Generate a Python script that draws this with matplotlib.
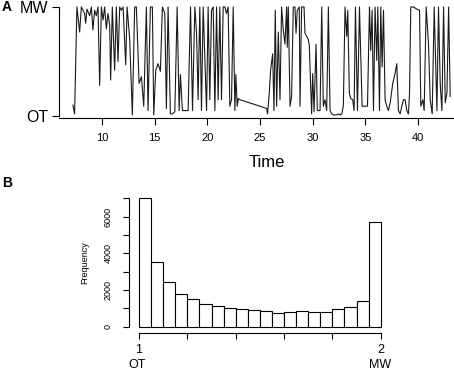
import numpy as np
import matplotlib
import matplotlib.pyplot as plt

matplotlib.use("Agg")
plt.rcParams["font.family"] = ["Liberation Sans", "DejaVu Sans"]

# panel A: state trace over time (1 = OT, 2 = MW)
time = [7.24, 7.40, 7.62, 7.88, 8.04, 8.35, 8.45, 8.57, 8.83, 8.99, 9.14, 9.30, 9.46,
        9.62, 9.78, 9.94, 10.10, 10.25, 10.41, 10.57, 10.73, 10.82, 10.98, 11.20, 11.36,
        11.52, 11.68, 11.84, 12.00, 12.25, 12.38, 12.63, 12.88, 13.10, 13.26, 13.52,
        13.74, 13.96, 14.21, 14.37, 14.59, 14.78, 14.91, 15.10, 15.32, 15.54, 15.73,
        15.96, 16.11, 16.27, 16.49, 16.68, 16.91, 17.13, 17.32, 17.44, 17.63, 17.86,
        18.17, 18.40, 18.59, 18.81, 18.97, 19.12, 19.28, 19.44, 19.60, 19.76, 19.92,
        20.07, 20.23, 20.39, 20.55, 20.71, 20.87, 21.02, 21.18, 21.34, 21.50, 21.66,
        21.82, 21.97, 22.13, 22.29, 22.45, 22.61, 22.70, 22.83, 22.93, 23.08, 25.62,
        25.71, 25.87, 26.00, 26.19, 26.32, 26.44, 26.57, 26.73, 26.89, 27.04, 27.20,
        27.36, 27.52, 27.58, 27.68, 27.84, 27.99, 28.15, 28.31, 28.41, 28.53, 28.72,
        28.79, 28.94, 29.17, 29.26, 29.42, 29.58, 29.67, 29.89, 29.99, 30.12, 30.31,
        30.43, 30.69, 30.85, 31.00, 31.16, 31.32, 31.48, 31.64, 31.80, 31.95, 32.27,
        32.43, 32.59, 32.75, 32.90, 33.06, 33.22, 33.32, 33.47, 33.60, 33.79, 33.92,
        34.05, 34.24, 34.43, 34.55, 34.68, 34.96, 35.19, 35.38, 35.50, 35.63, 35.76,
        35.91, 36.07, 36.17, 36.33, 36.45, 36.58, 36.71, 36.86, 37.02, 37.18, 37.34,
        37.59, 37.81, 37.97, 38.13, 38.29, 38.45, 38.61, 38.76, 38.92, 39.08, 39.18,
        39.30, 39.56, 39.87, 40.13, 40.25, 40.44, 40.57, 40.76, 40.98, 41.14, 41.33,
        41.52, 41.78, 41.93, 42.09, 42.25, 42.41, 42.57, 42.73, 42.89, 43.04]
state = [1.10, 1.02, 2.00, 1.77, 2.00, 1.94, 1.85, 1.98, 1.92, 2.00, 1.79, 1.97, 1.92,
         2.00, 1.28, 2.00, 1.88, 2.00, 1.80, 1.94, 1.83, 1.33, 2.00, 1.42, 2.00,
         1.50, 2.00, 1.97, 2.00, 1.47, 2.00, 1.70, 1.01, 2.00, 2.00, 1.30,
         1.36, 1.09, 2.00, 1.05, 2.00, 2.00, 1.01, 1.42, 1.48, 1.41, 2.00,
         1.94, 1.07, 2.00, 1.02, 1.02, 1.04, 2.00, 1.05, 1.38, 1.05, 1.05,
         1.05, 2.00, 1.05, 2.00, 1.76, 1.15, 2.00, 1.05, 2.00, 1.54, 1.05,
         2.00, 1.15, 1.97, 2.00, 1.05, 2.00, 1.15, 2.00, 1.15, 2.00, 2.00,
         1.94, 2.00, 1.09, 1.15, 2.00, 1.05, 1.38, 1.09, 1.16, 1.15, 1.07,
         1.02, 1.21, 1.42, 1.57, 1.05, 1.97, 1.09, 1.77, 1.15, 2.00, 1.79,
         1.66, 2.00, 1.63, 2.00, 1.09, 1.18, 2.00, 2.00, 1.76, 1.97, 2.00,
         1.09, 2.00, 2.00, 1.76, 1.73, 1.70, 1.65, 1.02, 1.39, 1.04, 1.66,
         1.05, 1.05, 2.00, 1.09, 1.15, 1.05, 2.00, 1.05, 1.02, 1.01, 1.01,
         1.02, 1.01, 1.02, 1.09, 2.00, 1.73, 1.97, 1.21, 1.16, 1.15, 1.05,
         2.00, 1.05, 2.00, 1.57, 1.09, 1.09, 1.09, 2.00, 1.60, 1.97, 1.05,
         2.00, 1.51, 2.00, 1.05, 2.00, 1.45, 1.97, 1.15, 1.09, 1.05, 1.12,
         1.30, 1.39, 1.48, 1.05, 1.02, 1.09, 1.15, 1.15, 1.05, 1.02, 1.21,
         2.00, 2.00, 1.98, 1.97, 1.09, 1.15, 1.05, 2.00, 1.66, 1.15, 1.02,
         2.00, 1.05, 2.00, 1.30, 1.05, 2.00, 1.12, 1.21, 2.00, 1.18]

# panel B: histogram of the state values, 20 bins from 1 to 2
bin_edges = np.linspace(1, 2, 21)
counts = [7040, 3530, 2430, 1810, 1500, 1260, 1120, 1040, 950, 915,
          860, 770, 820, 830, 790, 820, 970, 1060, 1410, 5730]

W, H = 454, 372
fig = plt.figure(figsize=(W / 100, H / 100), dpi=100)

# ---- panel A ----
ax1 = fig.add_axes([59 / W, 1 - 118 / H, 1 - 59 / W, 113 / H])
ax1.plot(time, state, color="#1a1a1a", lw=0.8)
ax1.set_xlim(5.92, 43.40)
ax1.set_ylim(0.982, 2.018)
for s in ("top", "right"):
    ax1.spines[s].set_visible(False)
ax1.spines["left"].set_bounds(1, 2)
ax1.spines["left"].set_linewidth(0.8)
ax1.spines["bottom"].set_linewidth(0.8)
ax1.set_yticks([1, 2])
ax1.set_yticklabels(["OT", "MW"], fontsize=11.5)
ax1.set_xticks([10, 15, 20, 25, 30, 35, 40])
ax1.tick_params(axis="x", length=5, width=0.8, pad=6, labelsize=8)
ax1.tick_params(axis="y", length=5, width=0.8, pad=3)
fig.text(266.7 / W, 1 - 162 / H, "Time", fontsize=12, ha="center", va="center")
fig.text(2 / W, 1 - 7 / H, "A", fontsize=10, weight="bold", ha="left", va="center")

# ---- panel B ----
ax2 = fig.add_axes([129 / W, 1 - 332.7 / H, 261 / W, 137.7 / H])
ax2.bar(bin_edges[:-1], counts, width=np.diff(bin_edges), align="edge",
        facecolor="white", edgecolor="black", linewidth=0.8)
ax2.set_xlim(0.9586, 2.0385)
ax2.set_ylim(-327, 7180)
for s in ("top", "right"):
    ax2.spines[s].set_visible(False)
ax2.spines["left"].set_bounds(0, 7000)
ax2.spines["bottom"].set_bounds(1, 2)
ax2.spines["left"].set_linewidth(0.8)
ax2.spines["bottom"].set_linewidth(0.8)
ax2.set_yticks(range(0, 7001, 1000))
ax2.set_yticklabels([str(v) if v % 2000 == 0 else "" for v in range(0, 7001, 1000)],
                    rotation=90, va="center")
ax2.set_xticks(np.linspace(1, 2, 6))
ax2.set_xticklabels(["1", "", "", "", "", "2"])
ax2.tick_params(axis="y", length=4, width=0.8, pad=8, labelsize=6.5)
ax2.tick_params(axis="x", length=4, width=0.8, pad=4, labelsize=9)
fig.text(85 / W, 1 - 262.7 / H, "Frequency", fontsize=6.5, rotation=90,
         ha="center", va="center")
fig.text(136.7 / W, 1 - 365.5 / H, "OT", fontsize=9, ha="center", va="center")
fig.text(380 / W, 1 - 365.5 / H, "MW", fontsize=9, ha="center", va="center")
fig.text(2 / W, 1 - 183 / H, "B", fontsize=10, weight="bold", ha="left", va="center")

fig.savefig("out.png", dpi=100)
plt.close(fig)
